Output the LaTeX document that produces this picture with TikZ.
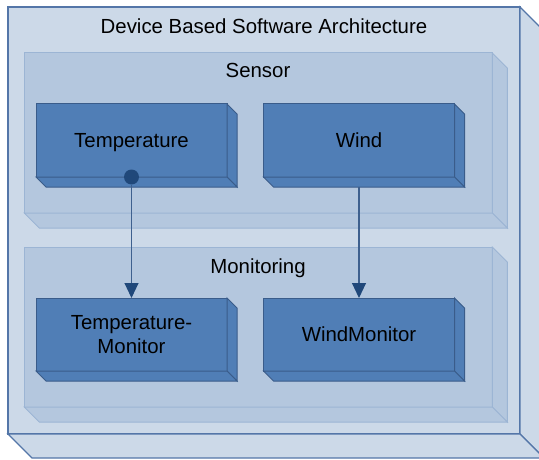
\documentclass[tikz,border=0pt]{standalone}
\usepackage{fontspec}
\setmainfont{Liberation Sans}
\usetikzlibrary{arrows.meta,calc}

\definecolor{shellfill}{RGB}{204,217,232}
\definecolor{shellline}{RGB}{84,118,168}
\definecolor{tierfill}{RGB}{180,199,222}
\definecolor{tierline}{RGB}{156,181,212}
\definecolor{unitfill}{RGB}{80,126,182}
\definecolor{unitline}{RGB}{58,92,138}
\definecolor{dotfill}{RGB}{32,72,122}
\definecolor{wireline}{RGB}{62,96,142}

% the two hidden-side faces of a box seen from the front-left-top
\newcommand{\sidefaces}[3]{%
  \draw[#3] (#1.north east) -- ++(#2,#2) -- ($(#1.south east)+(#2,#2)$) -- (#1.south east) -- cycle;
  \draw[#3] (#1.south west) -- ($(#1.south west)+(#2,#2)$) -- ($(#1.south east)+(#2,#2)$) -- (#1.south east) -- cycle;
}

\tikzset{
  txt/.style={font=\fontsize{20.4}{24.5}\selectfont},
  shellpaint/.style={draw=shellline, fill=shellfill, line width=1.2pt, line join=miter},
  tierpaint/.style={draw=tierline, fill=tierfill, line width=1pt},
  unitpaint/.style={draw=unitline, fill=unitfill, line width=1pt},
  shell/.style={shellpaint, minimum width=512pt, minimum height=427pt, inner sep=0pt, outer sep=0pt},
  tier/.style={tierpaint, minimum width=468pt, minimum height=160pt, inner sep=0pt, outer sep=0pt},
  unit/.style={unitpaint, txt, align=center, minimum width=191pt, minimum height=73pt, inner sep=0pt, outer sep=0pt},
  oneline/.style={text depth=0pt},
  caption/.style={txt, anchor=base, inner sep=0pt},
  ball/.style={circle, fill=dotfill, draw=none, minimum size=15pt, inner sep=0pt},
  wire/.style={draw=wireline, line width=1.1pt, -{Triangle[length=15pt,width=14pt,color=dotfill]}},
}

\begin{document}
\begin{tikzpicture}[x=1pt,y=-1pt]
  \useasboundingbox (0,0) rectangle (539,460);
  \clip (0,0) rectangle (539,460);

  % outer frame
  \node[shell] (arch) at (264,220.5) {};
  \sidefaces{arch}{24}{shellpaint}
  \node[caption] (archlbl) at (264,34) {Device Based Software Architecture};

  % layers
  \node[tier] (sensor) at (258.25,133) {};
  \sidefaces{sensor}{15}{tierpaint}
  \node[caption] (sensorlbl) at (258,78) {Sensor};

  \node[tier] (monitor) at (258.25,327) {};
  \sidefaces{monitor}{15}{tierpaint}
  \node[caption] (monitorlbl) at (258,273) {Monitoring};

  % components
  \node[unit, oneline] (t) at (131.5,140.5) {Temperature};
  \sidefaces{t}{10}{unitpaint}
  \node[unit, oneline] (w) at (359,140.5) {Wind};
  \sidefaces{w}{10}{unitpaint}
  \node[unit] (tm) at (131.5,334.5) {Temperature-\\Monitor};
  \sidefaces{tm}{10}{unitpaint}
  \node[unit, oneline] (wm) at (359,334.5) {WindMonitor};
  \sidefaces{wm}{10}{unitpaint}

  % connectors
  \node[ball] (tb) at (t.south) {};
  \draw[wire] (tb) -- (tm.north);
  \coordinate (wb) at ($(w.south)+(0,10)$);
  \draw[wire] (wb) -- (wm.north);
\end{tikzpicture}
\end{document}
